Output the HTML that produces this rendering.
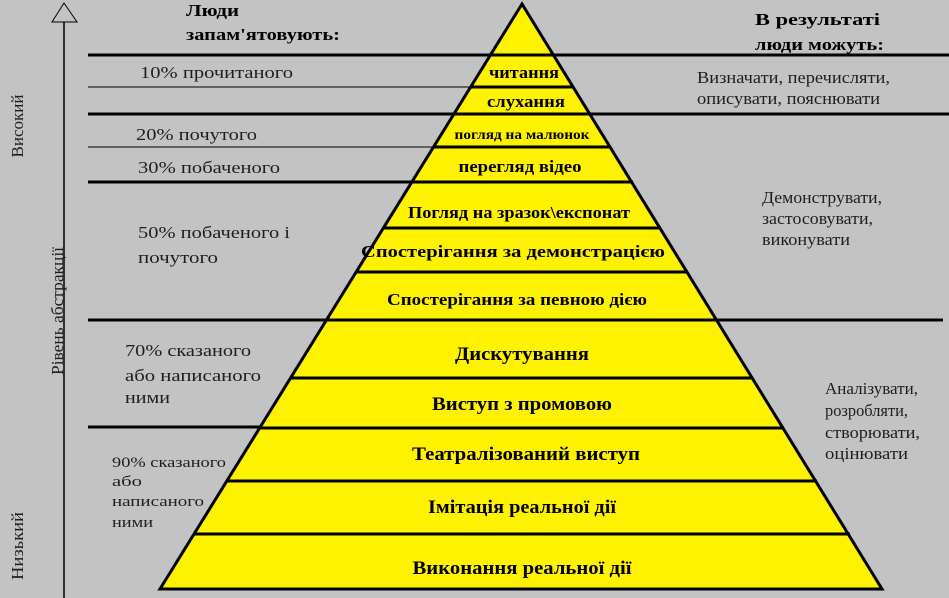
<!DOCTYPE html>
<html><head><meta charset="utf-8"><style>
body{margin:0;background:#c3c3c3}
svg{display:block}
text{font-family:"Liberation Serif","DejaVu Serif",serif}
.b{font-weight:bold;font-size:17px;fill:#000}
.n{font-size:17px;fill:#1e1e1e}
.c{text-anchor:middle}
</style></head><body>
<svg width="949" height="598" viewBox="0 0 949 598" xmlns="http://www.w3.org/2000/svg">
<rect width="949" height="598" fill="#c3c3c3"/>
<g stroke="#000">
<line x1="88" y1="55" x2="949" y2="55" stroke-width="3"/>
<line x1="88" y1="87" x2="470" y2="87" stroke-width="1"/>
<line x1="88" y1="114" x2="949" y2="114" stroke-width="3"/>
<line x1="88" y1="147" x2="450" y2="147" stroke-width="1"/>
<line x1="88" y1="182" x2="430" y2="182" stroke-width="3"/>
<line x1="88" y1="320" x2="943" y2="320" stroke-width="3"/>
<line x1="88" y1="427" x2="260" y2="427" stroke-width="3"/>
</g>
<polygon points="522,4 160,589 882,589" fill="#fff200" stroke="#000" stroke-width="3"/>
<g stroke="#000" stroke-width="3">
<line x1="490" y1="55" x2="554" y2="55"/>
<line x1="470" y1="87" x2="574" y2="87"/>
<line x1="453" y1="114" x2="591" y2="114"/>
<line x1="433" y1="147" x2="611" y2="147"/>
<line x1="411" y1="182" x2="633" y2="182"/>
<line x1="383" y1="228" x2="661" y2="228"/>
<line x1="356" y1="272" x2="688" y2="272"/>
<line x1="327" y1="320" x2="717" y2="320"/>
<line x1="291" y1="378" x2="753" y2="378"/>
<line x1="260" y1="428" x2="784" y2="428"/>
<line x1="227" y1="481" x2="817" y2="481"/>
<line x1="194" y1="534" x2="850" y2="534"/>
</g>
<text class="b c" x="524" y="78" textLength="70" lengthAdjust="spacingAndGlyphs">читання</text>
<text class="b c" x="526" y="107" textLength="78" lengthAdjust="spacingAndGlyphs">слухання</text>
<text class="b c" x="522" y="139" style="font-size:14px" textLength="135" lengthAdjust="spacingAndGlyphs">погляд на малюнок</text>
<text class="b c" x="520" y="172" textLength="123" lengthAdjust="spacingAndGlyphs">перегляд відео</text>
<text class="b c" x="519" y="218" textLength="222" lengthAdjust="spacingAndGlyphs">Погляд на зразок\експонат</text>
<text class="b c" x="513" y="257" textLength="304" lengthAdjust="spacingAndGlyphs">Спостерігання за демонстрацією</text>
<text class="b c" x="517" y="305" textLength="260" lengthAdjust="spacingAndGlyphs">Спостерігання за певною дією</text>
<text class="b c" x="522" y="360" style="font-size:19px" textLength="134" lengthAdjust="spacingAndGlyphs">Дискутування</text>
<text class="b c" x="522" y="410" style="font-size:19px" textLength="180" lengthAdjust="spacingAndGlyphs">Виступ з промовою</text>
<text class="b c" x="526" y="460" style="font-size:19px" textLength="228" lengthAdjust="spacingAndGlyphs">Театралізований виступ</text>
<text class="b c" x="522" y="513" style="font-size:19px" textLength="188" lengthAdjust="spacingAndGlyphs">Імітація реальної дії</text>
<text class="b c" x="522" y="574" style="font-size:19px" textLength="219" lengthAdjust="spacingAndGlyphs">Виконання реальної дії</text>
<text class="b" x="186" y="16" textLength="53" lengthAdjust="spacingAndGlyphs">Люди</text>
<text class="b" x="186" y="40" textLength="154" lengthAdjust="spacingAndGlyphs">запам'ятовують:</text>
<text class="b" x="755" y="25" textLength="125" lengthAdjust="spacingAndGlyphs">В результаті</text>
<text class="b" x="755" y="50" textLength="129" lengthAdjust="spacingAndGlyphs">люди можуть:</text>
<text class="n" x="140" y="78" textLength="153" lengthAdjust="spacingAndGlyphs">10% прочитаного</text>
<text class="n" x="136" y="140" textLength="121" lengthAdjust="spacingAndGlyphs">20% почутого</text>
<text class="n" x="138" y="173" textLength="142" lengthAdjust="spacingAndGlyphs">30% побаченого</text>
<text class="n" x="138" y="238" textLength="152" lengthAdjust="spacingAndGlyphs">50% побаченого і</text>
<text class="n" x="138" y="263" textLength="80" lengthAdjust="spacingAndGlyphs">почутого</text>
<text class="n" x="125" y="356" textLength="126" lengthAdjust="spacingAndGlyphs">70% сказаного</text>
<text class="n" x="125" y="381" textLength="136" lengthAdjust="spacingAndGlyphs">або написаного</text>
<text class="n" x="125" y="403" textLength="45" lengthAdjust="spacingAndGlyphs">ними</text>
<text class="n" x="112" y="467" style="font-size:15px" textLength="114" lengthAdjust="spacingAndGlyphs">90% сказаного</text>
<text class="n" x="112" y="486" style="font-size:15px" textLength="30" lengthAdjust="spacingAndGlyphs">або</text>
<text class="n" x="112" y="506" style="font-size:15px" textLength="92" lengthAdjust="spacingAndGlyphs">написаного</text>
<text class="n" x="112" y="527" style="font-size:15px" textLength="41" lengthAdjust="spacingAndGlyphs">ними</text>
<text class="n" x="697" y="83" textLength="193" lengthAdjust="spacingAndGlyphs">Визначати, перечисляти,</text>
<text class="n" x="697" y="104" textLength="183" lengthAdjust="spacingAndGlyphs">описувати, пояснювати</text>
<text class="n" x="762" y="203" textLength="120" lengthAdjust="spacingAndGlyphs">Демонструвати,</text>
<text class="n" x="762" y="224" textLength="111" lengthAdjust="spacingAndGlyphs">застосовувати,</text>
<text class="n" x="762" y="245" textLength="88" lengthAdjust="spacingAndGlyphs">виконувати</text>
<text class="n" x="825" y="394" textLength="93" lengthAdjust="spacingAndGlyphs">Аналізувати,</text>
<text class="n" x="825" y="416" textLength="83" lengthAdjust="spacingAndGlyphs">розробляти,</text>
<text class="n" x="825" y="438" textLength="95" lengthAdjust="spacingAndGlyphs">створювати,</text>
<text class="n" x="825" y="459" textLength="83" lengthAdjust="spacingAndGlyphs">оцінювати</text>
<line x1="64" y1="22" x2="64" y2="598" stroke="#000" stroke-width="1.5"/>
<polygon points="64,3 52,22 77,22" fill="none" stroke="#000" stroke-width="1"/>
<text class="n c" transform="translate(23,126) rotate(-90)" textLength="63" lengthAdjust="spacingAndGlyphs">Високий</text>
<text class="n c" transform="translate(63,311) rotate(-90)" textLength="128" lengthAdjust="spacingAndGlyphs">Рівень абстракції</text>
<text class="n c" transform="translate(23,546) rotate(-90)" textLength="68" lengthAdjust="spacingAndGlyphs">Низький</text>
</svg>
</body></html>
